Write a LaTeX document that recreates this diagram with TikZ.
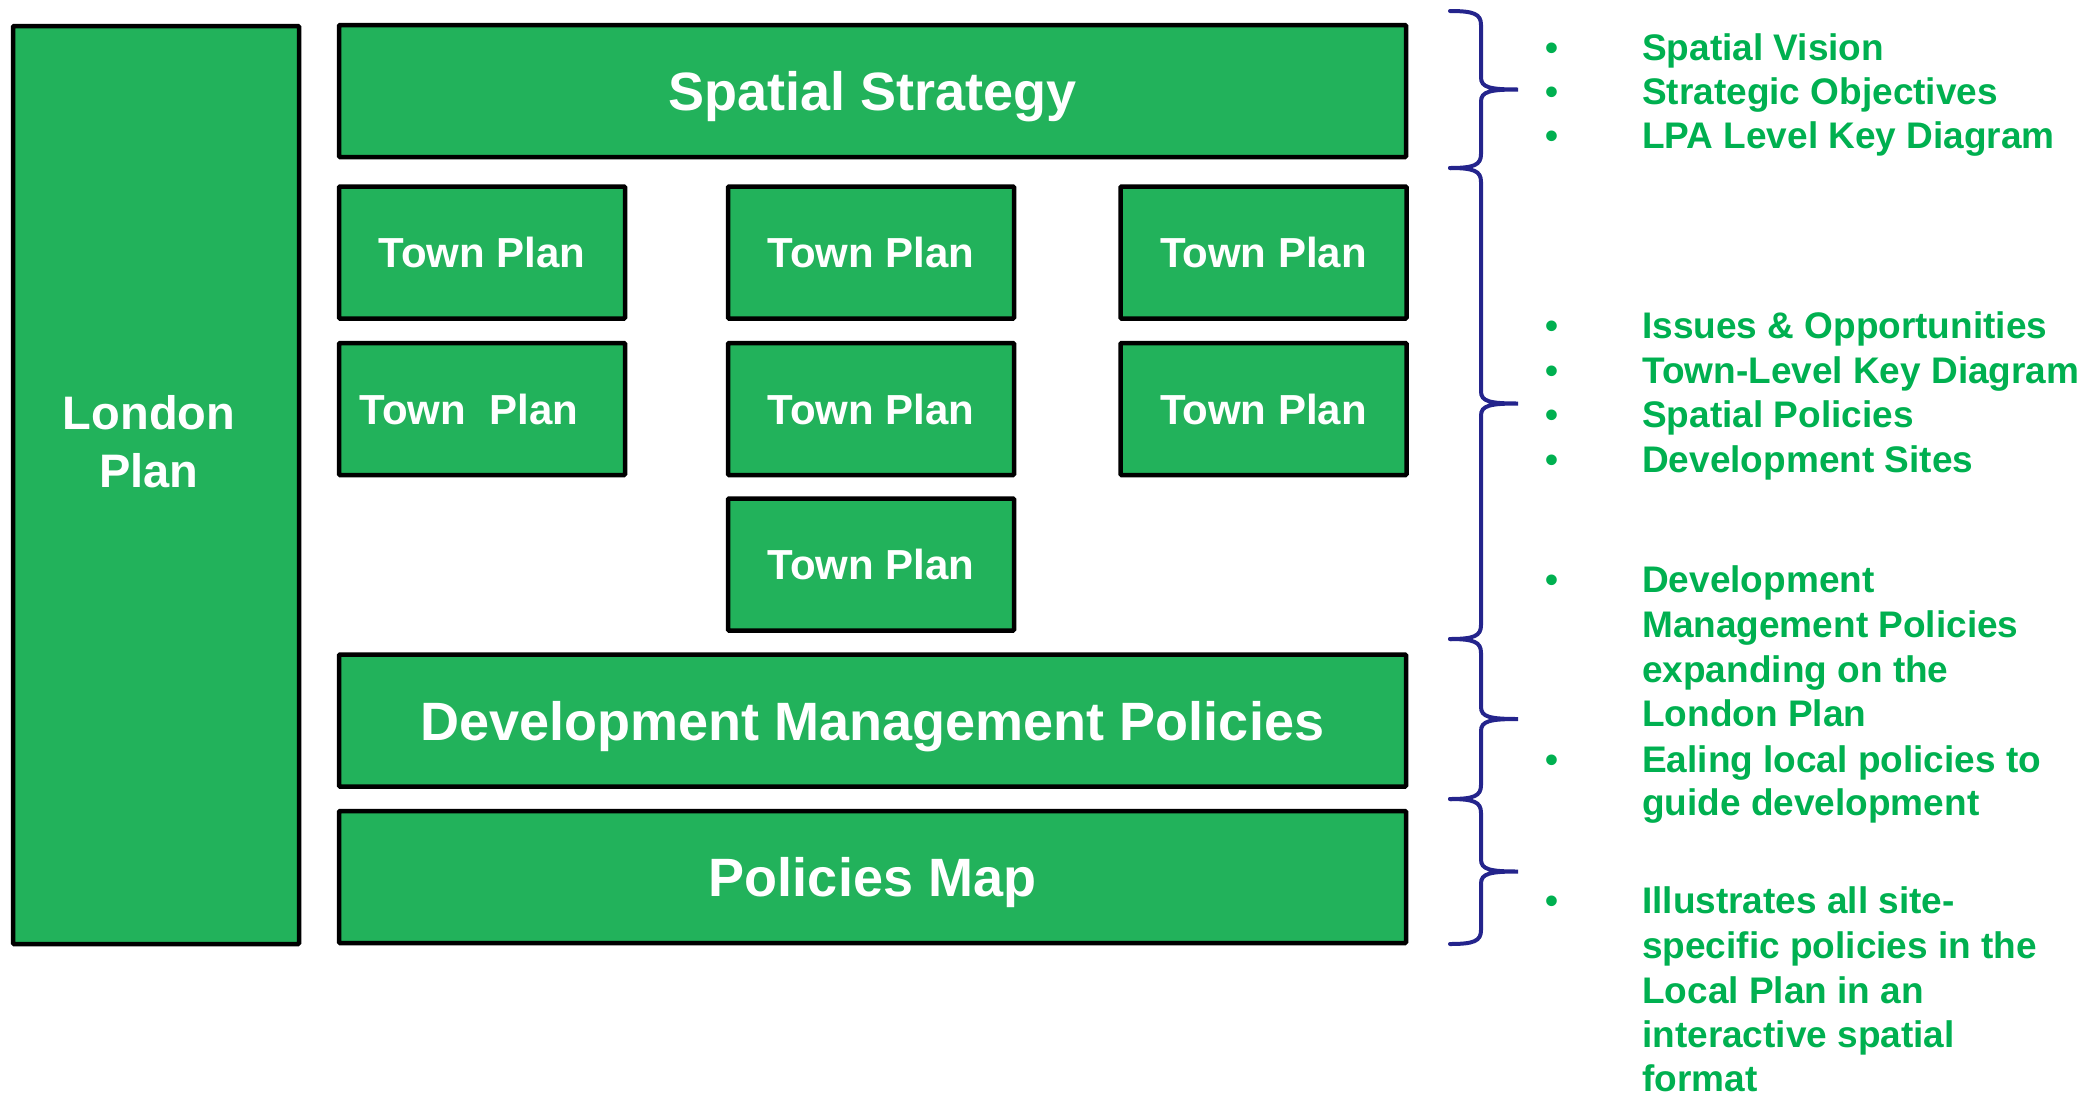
\documentclass[tikz,border=0pt]{standalone}
\usepackage{fontspec}
\setmainfont{Liberation Sans}
\definecolor{planfill}{RGB}{34,178,91}
\definecolor{notegreen}{RGB}{0,176,80}
\definecolor{bracenavy}{RGB}{36,36,140}
\tikzset{
  plan/.style={draw=black, line width=4.5pt, fill=planfill, text=white, inner sep=0pt, rounded corners=1pt},
  town/.style={plan, minimum width=286pt, minimum height=132pt, font=\bfseries\fontsize{42}{50}\selectfont},
  wide/.style={plan, minimum width=1067pt, minimum height=132pt, text depth=0pt, font=\bfseries\fontsize{54}{64}\selectfont},
  note/.style={anchor=base west, inner sep=0pt, text=notegreen, font=\bfseries\fontsize{37}{44}\selectfont},
  curly/.style={draw=bracenavy, line width=4pt, line cap=round}
}
\begin{document}
\begin{tikzpicture}[x=1pt,y=-1pt]
\useasboundingbox (0,0) rectangle (2096,1096);

\node[plan, minimum width=286pt, minimum height=918pt] (london) at (156,485) {};
\node[text=white, align=center, font=\bfseries\fontsize{47}{58}\selectfont] (londonlabel) at (149,442) {London\\Plan};

\node[wide] (strategy) at (872.5,91) {Spatial Strategy};
\node[town] (t1) at (482,252.5) {Town Plan};
\node[town] (t2) at (871,252.5) {Town Plan};
\node[town] (t3) at (1263.5,252.5) {Town Plan};
\node[town] (t4) at (482,409) {\hspace*{-26pt}Town\ \ Plan};
\node[town] (t5) at (871,409) {Town Plan};
\node[town] (t6) at (1263.5,409) {Town Plan};
\node[town] (t7) at (871,564.5) {Town Plan};
\node[wide] (dmp) at (872.5,720.5) {Development Management Policies};
\node[wide] (map) at (872.5,877) {Policies Map};

% curly brackets
\foreach \ya/\yb in {11/168,168/639,639/799,799/944}{
  \pgfmathsetmacro\ym{(\ya+\yb)/2}
  \draw[curly] (1450,\ya) .. controls (1474,\ya) and (1481,{\ya+3}) .. (1481,{\ya+14})
    -- (1481,{\ym-12}) .. controls (1481,{\ym-2}) and (1490,\ym) .. (1518,\ym)
    .. controls (1490,\ym) and (1481,{\ym+2}) .. (1481,{\ym+12})
    -- (1481,{\yb-14}) .. controls (1481,{\yb-3}) and (1474,\yb) .. (1450,\yb);
}

\foreach \y [count=\i] in {60,104,148,338,383,427,472,592,772,913}
  \node[note] (b\i) at (1545,\y) {•};

\foreach \y/\t [count=\i] in {60/Spatial Vision, 104/Strategic Objectives, 148/LPA Level Key Diagram,
    338/Issues \& Opportunities, 383/Town-Level Key Diagram, 427/Spatial Policies, 472/Development Sites,
    592/Development, 637/Management Policies, 682/expanding on the, 726/London Plan,
    772/Ealing local policies to, 815/guide development,
    913/Illustrates all site-, 958/specific policies in the, 1003/Local Plan in an, 1047/interactive spatial, 1091/format}
  \node[note] (n\i) at (1642,\y) {\t};
\end{tikzpicture}
\end{document}
